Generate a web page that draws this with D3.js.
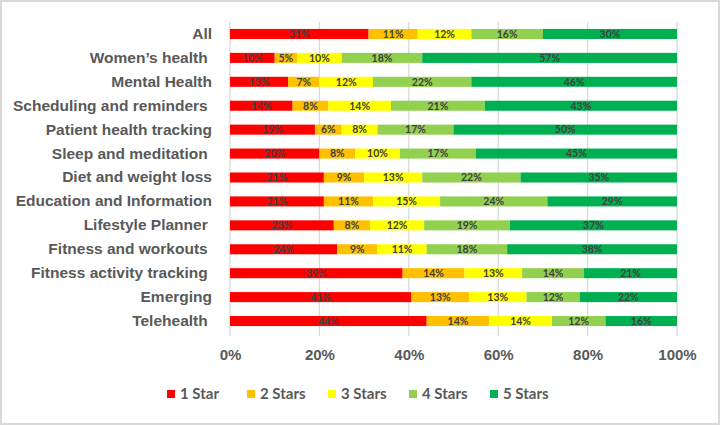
<!DOCTYPE html>
<html>
<head>
<meta charset="utf-8">
<script src="https://cdn.jsdelivr.net/npm/d3@7"></script>
<style>
  body { margin: 0; background: #fff; }
  svg { display: block; font-family: Lato, "Open Sans", sans-serif; }
</style>
</head>
<body>
<svg id="chart" width="720" height="425"></svg>
<script>
// categories, top to bottom
var categories = ["All", "Women\u2019s health ", "Mental Health", "Scheduling and reminders ",
  "Patient health tracking", "Sleep and meditation ", "Diet and weight loss",
  "Education and Information", "Lifestyle Planner ", "Fitness and workouts ",
  "Fitness activity tracking ", "Emerging", "Telehealth "];

// share of ratings (%), one array per series
var star1 = [31, 10, 13, 14, 19, 20, 21, 21, 23, 24, 39, 41, 44];
var star2 = [11, 5, 7, 8, 6, 8, 9, 11, 8, 9, 14, 13, 14];
var star3 = [12, 10, 12, 14, 8, 10, 13, 15, 12, 11, 13, 13, 14];
var star4 = [16, 18, 22, 21, 17, 17, 22, 24, 19, 18, 14, 12, 12];
var star5 = [30, 57, 46, 43, 50, 45, 35, 29, 37, 38, 21, 22, 16];

var seriesNames = ["1 Star", "2 Stars", "3 Stars", "4 Stars", "5 Stars"];
var seriesColors = ["#ff0000", "#ffc000", "#ffff00", "#92d050", "#00b050"];
var xTicks = [0, 0.2, 0.4, 0.6, 0.8, 1];

function drawChart() {
	var svg = d3.select("#chart");
	var margin = {top: 22, right: 43, bottom: 92, left: 230},
		width = 720 - margin.left - margin.right,
		height = 425 - margin.top - margin.bottom;

	// outer frame
	svg.append("rect")
		.attr("x", 1).attr("y", 1)
		.attr("width", 718).attr("height", 423)
		.attr("fill", "#fff")
		.attr("stroke", "#d9d9d9")
		.attr("stroke-width", 2);

	var values = [star1, star2, star3, star4, star5];
	var data = categories.map(function(c, i) {
		var row = {name: c};
		seriesNames.forEach(function(s, j) { row[s] = values[j][i]; });
		return row;
	});
	// rounded labels don't always add to 100, so stretch each row to full width
	var stacked = d3.stack().keys(seriesNames).offset(d3.stackOffsetExpand)(data);

	var x = d3.scaleLinear().domain([0, 1]).range([0, width]);
	var y = d3.scaleBand()
		.domain(categories)
		.range([0, height])
		.paddingInner(0.58)
		.paddingOuter(0.29);
	var color = d3.scaleOrdinal().domain(seriesNames).range(seriesColors);

	var chart = svg.append("g")
		.attr("transform", "translate(" + margin.left + "," + margin.top + ")");

	// gridlines
	chart.append("g")
		.selectAll("line")
		.data(xTicks)
	  .enter().append("line")
		.attr("x1", function(d) { return x(d); })
		.attr("x2", function(d) { return x(d); })
		.attr("y1", 0)
		.attr("y2", height + 3)
		.attr("stroke", "#d9d9d9")
		.attr("stroke-width", 1.3);

	// x axis labels
	var xAxis = d3.axisBottom(x)
		.tickValues(xTicks)
		.tickSize(0)
		.tickPadding(16)
		.tickFormat(d3.format(".0%"));
	var gx = chart.append("g")
		.attr("transform", "translate(0," + height + ")")
		.call(xAxis);
	gx.select(".domain").remove();
	gx.selectAll("text")
		.attr("fill", "#595959")
		.style("font-size", "15px")
		.style("font-weight", "bold");

	// y axis labels
	var yAxis = d3.axisLeft(y).tickSize(0).tickPadding(18);
	var gy = chart.append("g").call(yAxis);
	gy.select(".domain").remove();
	gy.selectAll("text")
		.attr("fill", "#595959")
		.style("font-size", "15.5px")
		.style("font-weight", "bold")
		.style("white-space", "pre");

	// bars
	var layers = chart.selectAll(".layer")
		.data(stacked)
	  .enter().append("g")
		.attr("class", "layer")
		.attr("fill", function(d) { return color(d.key); });

	layers.selectAll("rect")
		.data(function(d) { return d; })
	  .enter().append("rect")
		.attr("x", function(d) { return x(d[0]); })
		.attr("y", function(d) { return y(d.data.name); })
		.attr("width", function(d) { return x(d[1]) - x(d[0]); })
		.attr("height", y.bandwidth());

	// data labels (raw values)
	layers.selectAll("text")
		.data(function(d) { return d.map(function(p) { p.key = d.key; return p; }); })
	  .enter().append("text")
		.attr("x", function(d) { return (x(d[0]) + x(d[1])) / 2; })
		.attr("y", function(d) { return y(d.data.name) + y.bandwidth() / 2; })
		.attr("dy", "0.36em")
		.attr("text-anchor", "middle")
		.attr("fill", "#404040")
		.style("font-size", "10.5px")
		.style("font-weight", "bold")
		.text(function(d) { return d.data[d.key] + "%"; });

	// legend
	var legendX = [167, 247, 328, 409, 490];
	var legend = svg.append("g")
		.selectAll("g")
		.data(seriesNames)
	  .enter().append("g")
		.attr("transform", function(d, i) { return "translate(" + legendX[i] + ",394)"; });
	legend.append("rect")
		.attr("x", 0).attr("y", -4)
		.attr("width", 8).attr("height", 8)
		.attr("fill", function(d) { return color(d); });
	legend.append("text")
		.attr("x", 13)
		.attr("dy", "0.36em")
		.attr("fill", "#595959")
		.style("font-size", "15px")
		.style("font-weight", "bold")
		.text(function(d) { return d; });
}

drawChart();
</script>
</body>
</html>
